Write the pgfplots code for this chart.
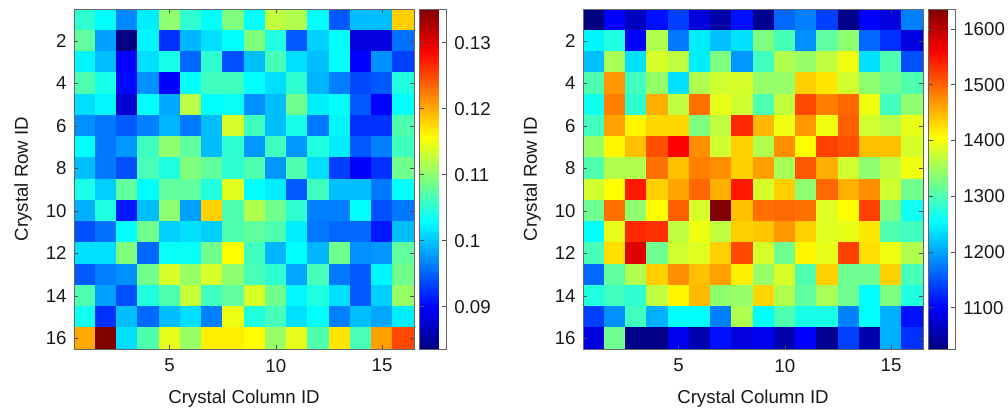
\documentclass[border=0pt]{standalone}
\usepackage{fontspec}
\setmainfont{Liberation Sans}
\usepackage{pgfplots}
\pgfplotsset{compat=1.18}
\newcommand{\fs}{\fontsize{14}{17}\selectfont}
\pgfplotsset{
  hm/.style={
    scale only axis, width=255pt, height=255pt, anchor=south west,
    xmin=0.5, xmax=16.5, ymin=0.5, ymax=16.5, y dir=reverse,
    xtick={5,10,15}, xticklabels={5,10,15},
    ytick={2,4,6,8,10,12,14,16}, yticklabels={2,4,6,8,10,12,14,16},
    tick align=inside, tick pos=both, major tick length=3pt,
    axis line style={draw=black!60, line width=0.5pt},
    every tick/.style={black!70, line width=0.5pt},
    tick label style={font=\fs, text=black!90},
    xticklabel style={yshift=-4pt},
    yticklabel style={xshift=-2pt},
    label style={font=\fs, text=black!90},
    xlabel={Crystal Column ID}, ylabel={Crystal Row ID},
    xlabel style={at={(axis description cs:0.5,-0.147)}, anchor=center},
    ylabel style={at={(axis description cs:-0.15,0.5)}, anchor=center},
    axis on top,
    colormap/jet, colorbar,
  },
  cb/.style={
    at={(parent axis.north east)}, anchor=north west, xshift=-4.2pt,
    scale only axis, width=19.9pt, height=255pt,
    tick align=inside, ytick pos=both, yticklabel pos=right, major tick length=3pt,
    axis line style={draw=black!60, line width=0.5pt},
    every tick/.style={black!70, line width=0.5pt},
    tick label style={font=\fs, text=black!90},
    yticklabel style={xshift=2.5pt},
    scaled y ticks=false, xtick=\empty,
  },
}
\begin{document}
\begin{tikzpicture}
\path[use as bounding box] (0,0) rectangle (756pt,309pt);
\begin{axis}[hm, at={(55.5pt,47.25pt)},
  point meta min=0.0836, point meta max=0.1351,
  colorbar style={cb, ytick={0.09,0.1,0.11,0.12,0.13}, yticklabels={0.09,0.1,0.11,0.12,0.13}}]
\addplot[matrix plot*, mesh/cols=16, point meta=explicit]
 table[row sep=\\, x=x, y=y, meta=c] {
x y c\\
1 1 0.1053\\ 2 1 0.1029\\ 3 1 0.0969\\ 4 1 0.1021\\ 5 1 0.1102\\ 6 1 0.1053\\ 7 1 0.1029\\ 8 1 0.1094\\ 9 1 0.1029\\ 10 1 0.1126\\ 11 1 0.1118\\ 12 1 0.1029\\ 13 1 0.0945\\ 14 1 0.0997\\ 15 1 0.0997\\ 16 1 0.1182\\
1 2 0.1078\\ 2 2 0.0981\\ 3 2 0.0836\\ 4 2 0.1025\\ 5 2 0.0925\\ 6 2 0.0993\\ 7 2 0.1013\\ 8 2 0.1029\\ 9 2 0.1094\\ 10 2 0.1045\\ 11 2 0.0945\\ 12 2 0.1005\\ 13 2 0.1029\\ 14 2 0.0884\\ 15 2 0.0884\\ 16 2 0.0957\\
1 3 0.1025\\ 2 3 0.0997\\ 3 3 0.0900\\ 4 3 0.1013\\ 5 3 0.1041\\ 6 3 0.0953\\ 7 3 0.1053\\ 8 3 0.0941\\ 9 3 0.0997\\ 10 3 0.1065\\ 11 3 0.1013\\ 12 3 0.0997\\ 13 3 0.1029\\ 14 3 0.0900\\ 15 3 0.0973\\ 16 3 0.0933\\
1 4 0.1069\\ 2 4 0.1041\\ 3 4 0.0904\\ 4 4 0.0973\\ 5 4 0.0900\\ 6 4 0.1029\\ 7 4 0.1061\\ 8 4 0.1061\\ 9 4 0.1029\\ 10 4 0.1013\\ 11 4 0.1053\\ 12 4 0.0993\\ 13 4 0.0965\\ 14 4 0.0937\\ 15 4 0.0945\\ 16 4 0.1045\\
1 5 0.1013\\ 2 5 0.1025\\ 3 5 0.0876\\ 4 5 0.1029\\ 5 5 0.0985\\ 6 5 0.1122\\ 7 5 0.1029\\ 8 5 0.1033\\ 9 5 0.0973\\ 10 5 0.0997\\ 11 5 0.1086\\ 12 5 0.1021\\ 13 5 0.1029\\ 14 5 0.0945\\ 15 5 0.0900\\ 16 5 0.1029\\
1 6 0.0973\\ 2 6 0.0961\\ 3 6 0.0945\\ 4 6 0.0965\\ 5 6 0.0993\\ 6 6 0.0961\\ 7 6 0.0997\\ 8 6 0.1138\\ 9 6 0.1061\\ 10 6 0.0997\\ 11 6 0.1041\\ 12 6 0.0961\\ 13 6 0.1025\\ 14 6 0.0925\\ 15 6 0.0925\\ 16 6 0.1069\\
1 7 0.1029\\ 2 7 0.0961\\ 3 7 0.0977\\ 4 7 0.1061\\ 5 7 0.1102\\ 6 7 0.1078\\ 7 7 0.0997\\ 8 7 0.1053\\ 9 7 0.0977\\ 10 7 0.1061\\ 11 7 0.0977\\ 12 7 0.1045\\ 13 7 0.1021\\ 14 7 0.0945\\ 15 7 0.0965\\ 16 7 0.1061\\
1 8 0.0997\\ 2 8 0.0961\\ 3 8 0.0941\\ 4 8 0.1065\\ 5 8 0.1045\\ 6 8 0.1094\\ 7 8 0.1078\\ 8 8 0.1053\\ 9 8 0.1069\\ 10 8 0.0977\\ 11 8 0.1069\\ 12 8 0.1013\\ 13 8 0.0933\\ 14 8 0.0900\\ 15 8 0.0925\\ 16 8 0.1086\\
1 9 0.1041\\ 2 9 0.1005\\ 3 9 0.1078\\ 4 9 0.1029\\ 5 9 0.1078\\ 6 9 0.1078\\ 7 9 0.1045\\ 8 9 0.1142\\ 9 9 0.1029\\ 10 9 0.1021\\ 11 9 0.0945\\ 12 9 0.1061\\ 13 9 0.0997\\ 14 9 0.0997\\ 15 9 0.0961\\ 16 9 0.1029\\
1 10 0.0989\\ 2 10 0.1045\\ 3 10 0.0912\\ 4 10 0.0997\\ 5 10 0.1102\\ 6 10 0.0981\\ 7 10 0.1182\\ 8 10 0.1069\\ 9 10 0.1118\\ 10 10 0.1086\\ 11 10 0.1053\\ 12 10 0.0965\\ 13 10 0.0965\\ 14 10 0.1029\\ 15 10 0.0941\\ 16 10 0.0961\\
1 11 0.0941\\ 2 11 0.0957\\ 3 11 0.1029\\ 4 11 0.1086\\ 5 11 0.1005\\ 6 11 0.1013\\ 7 11 0.1005\\ 8 11 0.1069\\ 9 11 0.1078\\ 10 11 0.1069\\ 11 11 0.1021\\ 12 11 0.0961\\ 13 11 0.0953\\ 14 11 0.0953\\ 15 11 0.0912\\ 16 11 0.0997\\
1 12 0.1013\\ 2 12 0.1013\\ 3 12 0.1094\\ 4 12 0.0953\\ 5 12 0.1033\\ 6 12 0.1033\\ 7 12 0.1086\\ 8 12 0.1158\\ 9 12 0.1061\\ 10 12 0.0993\\ 11 12 0.1029\\ 12 12 0.0993\\ 13 12 0.1086\\ 14 12 0.0973\\ 15 12 0.0977\\ 16 12 0.1078\\
1 13 0.0945\\ 2 13 0.0965\\ 3 13 0.0973\\ 4 13 0.1086\\ 5 13 0.1138\\ 6 13 0.1106\\ 7 13 0.1138\\ 8 13 0.1102\\ 9 13 0.1065\\ 10 13 0.1053\\ 11 13 0.0985\\ 12 13 0.1065\\ 13 13 0.0961\\ 14 13 0.0945\\ 15 13 0.1025\\ 16 13 0.1086\\
1 14 0.1069\\ 2 14 0.0981\\ 3 14 0.0941\\ 4 14 0.1045\\ 5 14 0.1069\\ 6 14 0.1130\\ 7 14 0.1061\\ 8 14 0.1078\\ 9 14 0.1138\\ 10 14 0.1086\\ 11 14 0.1025\\ 12 14 0.1045\\ 13 14 0.1013\\ 14 14 0.0945\\ 15 14 0.1005\\ 16 14 0.1106\\
1 15 0.1037\\ 2 15 0.0925\\ 3 15 0.0997\\ 4 15 0.0953\\ 5 15 0.0997\\ 6 15 0.1013\\ 7 15 0.0965\\ 8 15 0.1150\\ 9 15 0.1045\\ 10 15 0.1065\\ 11 15 0.1013\\ 12 15 0.1029\\ 13 15 0.0965\\ 14 15 0.0997\\ 15 15 0.0985\\ 16 15 0.1021\\
1 16 0.1202\\ 2 16 0.1351\\ 3 16 0.1013\\ 4 16 0.1069\\ 5 16 0.1146\\ 6 16 0.1106\\ 7 16 0.1166\\ 8 16 0.1166\\ 9 16 0.1158\\ 10 16 0.1106\\ 11 16 0.1146\\ 12 16 0.1069\\ 13 16 0.1170\\ 14 16 0.1065\\ 15 16 0.1206\\ 16 16 0.1251\\
};
\end{axis}
\begin{axis}[hm, at={(437.25pt,47.25pt)},
  point meta min=1026, point meta max=1636,
  colorbar style={cb, ytick={1100,1200,1300,1400,1500,1600}, yticklabels={1100,1200,1300,1400,1500,1600}}]
\addplot[matrix plot*, mesh/cols=16, point meta=explicit]
 table[row sep=\\, x=x, y=y, meta=c] {
x y c\\
1 1 1026\\ 2 1 1102\\ 3 1 1064\\ 4 1 1112\\ 5 1 1140\\ 6 1 1083\\ 7 1 1050\\ 8 1 1112\\ 9 1 1036\\ 10 1 1164\\ 11 1 1178\\ 12 1 1140\\ 13 1 1031\\ 14 1 1102\\ 15 1 1083\\ 16 1 1178\\
1 2 1250\\ 2 2 1274\\ 3 2 1102\\ 4 2 1360\\ 5 2 1174\\ 6 2 1245\\ 7 2 1217\\ 8 2 1236\\ 9 2 1331\\ 10 2 1298\\ 11 2 1188\\ 12 2 1312\\ 13 2 1340\\ 14 2 1164\\ 15 2 1131\\ 16 2 1083\\
1 3 1217\\ 2 3 1355\\ 3 3 1236\\ 4 3 1383\\ 5 3 1369\\ 6 3 1245\\ 7 3 1331\\ 8 3 1193\\ 9 3 1293\\ 10 3 1360\\ 11 3 1345\\ 12 3 1369\\ 13 3 1398\\ 14 3 1236\\ 15 3 1302\\ 16 3 1150\\
1 4 1302\\ 2 4 1469\\ 3 4 1293\\ 4 4 1345\\ 5 4 1236\\ 6 4 1360\\ 7 4 1379\\ 8 4 1383\\ 9 4 1345\\ 10 4 1345\\ 11 4 1436\\ 12 4 1421\\ 13 4 1379\\ 14 4 1340\\ 15 4 1321\\ 16 4 1302\\
1 5 1264\\ 2 5 1483\\ 3 5 1283\\ 4 5 1455\\ 5 5 1369\\ 6 5 1493\\ 7 5 1393\\ 8 5 1379\\ 9 5 1302\\ 10 5 1369\\ 11 5 1517\\ 12 5 1483\\ 13 5 1498\\ 14 5 1398\\ 15 5 1293\\ 16 5 1340\\
1 6 1293\\ 2 6 1464\\ 3 6 1412\\ 4 6 1431\\ 5 6 1431\\ 6 6 1331\\ 7 6 1369\\ 8 6 1536\\ 9 6 1450\\ 10 6 1398\\ 11 6 1469\\ 12 6 1398\\ 13 6 1503\\ 14 6 1379\\ 15 6 1364\\ 16 6 1393\\
1 7 1345\\ 2 7 1412\\ 3 7 1445\\ 4 7 1512\\ 5 7 1560\\ 6 7 1474\\ 7 7 1379\\ 8 7 1436\\ 9 7 1360\\ 10 7 1474\\ 11 7 1407\\ 12 7 1522\\ 13 7 1512\\ 14 7 1445\\ 15 7 1445\\ 16 7 1383\\
1 8 1302\\ 2 8 1360\\ 3 8 1360\\ 4 8 1493\\ 5 8 1445\\ 6 8 1483\\ 7 8 1474\\ 8 8 1436\\ 9 8 1464\\ 10 8 1355\\ 11 8 1507\\ 12 8 1455\\ 13 8 1379\\ 14 8 1340\\ 15 8 1369\\ 16 8 1398\\
1 9 1379\\ 2 9 1407\\ 3 9 1545\\ 4 9 1436\\ 5 9 1460\\ 6 9 1498\\ 7 9 1455\\ 8 9 1545\\ 9 9 1383\\ 10 9 1436\\ 11 9 1340\\ 12 9 1498\\ 13 9 1455\\ 14 9 1474\\ 15 9 1379\\ 16 9 1321\\
1 10 1321\\ 2 10 1493\\ 3 10 1340\\ 4 10 1407\\ 5 10 1503\\ 6 10 1383\\ 7 10 1636\\ 8 10 1445\\ 9 10 1493\\ 10 10 1498\\ 11 10 1493\\ 12 10 1388\\ 13 10 1407\\ 14 10 1522\\ 15 10 1331\\ 16 10 1264\\
1 11 1255\\ 2 11 1393\\ 3 11 1536\\ 4 11 1531\\ 5 11 1369\\ 6 11 1398\\ 7 11 1369\\ 8 11 1436\\ 9 11 1441\\ 10 11 1469\\ 11 11 1436\\ 12 11 1388\\ 13 11 1393\\ 14 11 1421\\ 15 11 1302\\ 16 11 1293\\
1 12 1298\\ 2 12 1426\\ 3 12 1579\\ 4 12 1321\\ 5 12 1379\\ 6 12 1388\\ 7 12 1436\\ 8 12 1517\\ 9 12 1383\\ 10 12 1321\\ 11 12 1412\\ 12 12 1393\\ 13 12 1522\\ 14 12 1426\\ 15 12 1398\\ 16 12 1360\\
1 13 1164\\ 2 13 1312\\ 3 13 1360\\ 4 13 1436\\ 5 13 1474\\ 6 13 1445\\ 7 13 1464\\ 8 13 1417\\ 9 13 1345\\ 10 13 1383\\ 11 13 1302\\ 12 13 1436\\ 13 13 1321\\ 14 13 1321\\ 15 13 1436\\ 16 13 1298\\
1 14 1274\\ 2 14 1293\\ 3 14 1283\\ 4 14 1369\\ 5 14 1412\\ 6 14 1450\\ 7 14 1340\\ 8 14 1345\\ 9 14 1431\\ 10 14 1360\\ 11 14 1312\\ 12 14 1355\\ 13 14 1321\\ 14 14 1255\\ 15 14 1331\\ 16 14 1274\\
1 15 1140\\ 2 15 1188\\ 3 15 1293\\ 4 15 1207\\ 5 15 1255\\ 6 15 1255\\ 7 15 1178\\ 8 15 1360\\ 9 15 1255\\ 10 15 1302\\ 11 15 1269\\ 12 15 1269\\ 13 15 1178\\ 14 15 1255\\ 15 15 1207\\ 16 15 1112\\
1 16 1083\\ 2 16 1321\\ 3 16 1031\\ 4 16 1031\\ 5 16 1093\\ 6 16 1055\\ 7 16 1112\\ 8 16 1083\\ 9 16 1093\\ 10 16 1055\\ 11 16 1102\\ 12 16 1036\\ 13 16 1140\\ 14 16 1055\\ 15 16 1207\\ 16 16 1131\\
};
\end{axis}
\end{tikzpicture}
\end{document}
